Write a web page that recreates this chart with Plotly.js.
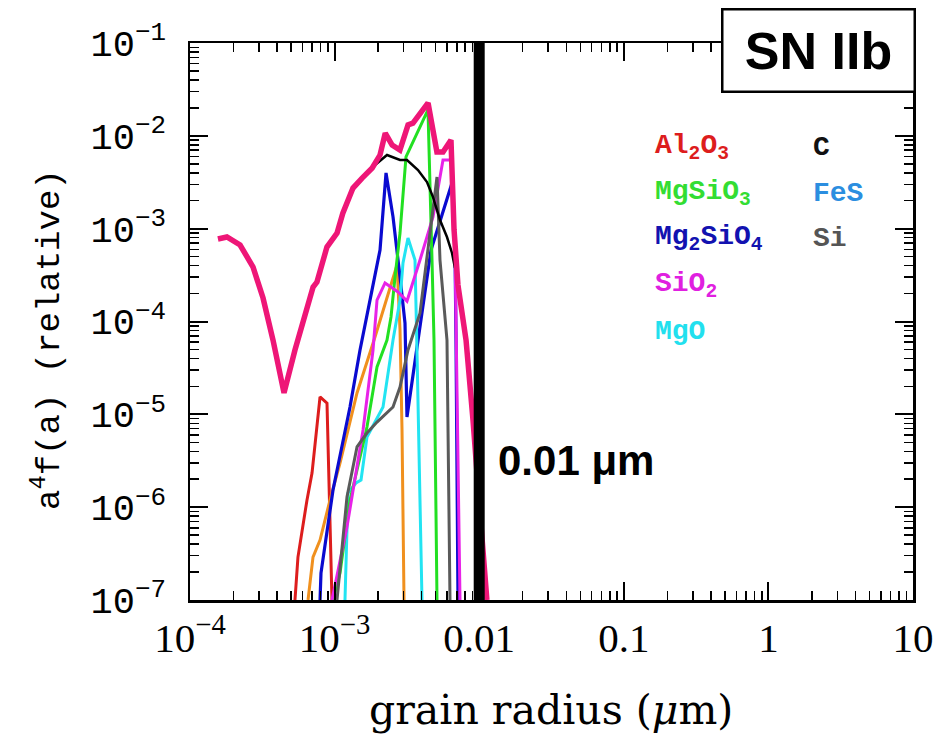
<!DOCTYPE html>
<html>
<head>
<meta charset="utf-8">
<script src="https://cdn.plot.ly/plotly-3.0.1.min.js"></script>
<style>html,body{margin:0;padding:0;background:#fff;}#chart{width:939px;height:736px;}</style>
</head>
<body>
<div id="chart"></div>
<script>
// ---- data (grain radius in micron, a^4 f(a) relative) ----
const totalX = [1.56e-4, 1.80e-4, 2.22e-4, 2.73e-4, 3.20e-4, 3.75e-4, 4.47e-4, 5.32e-4, 7.10e-4, 7.55e-4, 8.85e-4, 1.04e-3, 1.14e-3, 1.34e-3, 1.55e-3, 1.82e-3, 2.06e-3, 2.24e-3, 2.50e-3, 2.83e-3, 3.22e-3, 3.48e-3, 4.43e-3, 5.10e-3, 5.62e-3, 6.38e-3, 6.70e-3, 7.13e-3, 8.11e-3, 9.06e-3, 1.01e-2, 1.13e-2];
const totalY = [7.74e-4, 8.13e-4, 6.67e-4, 3.86e-4, 1.79e-4, 6.32e-5, 1.70e-5, 4.93e-5, 2.35e-4, 2.66e-4, 6.34e-4, 8.98e-4, 1.47e-3, 2.74e-3, 3.51e-3, 4.50e-3, 6.21e-3, 1.07e-2, 7.96e-3, 7.03e-3, 1.31e-2, 1.37e-2, 2.26e-2, 6.70e-3, 6.70e-3, 9.02e-3, 9.68e-4, 2.47e-4, 6.32e-5, 8.69e-6, 9.31e-7, 1.0e-7];

const al2o3X = [5.32e-4, 5.58e-4, 6.44e-4, 6.98e-4, 7.93e-4, 8.86e-4, 9.59e-4];
const al2o3Y = [1e-7, 2.9e-7, 1.19e-6, 2.33e-6, 1.54e-5, 1.32e-5, 1e-7];

const orangeX = [6.55e-4, 7.09e-4, 7.93e-4, 9.29e-4, 1.090e-3, 1.429e-3, 1.903e-3, 2.702e-3, 2.834e-3, 2.926e-3, 3.020e-3];
const orangeY = [1e-7, 2.9e-7, 4.43e-7, 1.19e-6, 2.99e-6, 1.70e-5, 6.81e-5, 4.06e-4, 8.1e-5, 6.78e-6, 1e-7];

const mg2sio4X = [7.93e-4, 8.05e-4, 9.75e-4, 1.278e-3, 1.499e-3, 1.814e-3, 2.061e-3, 2.268e-3, 2.535e-3, 2.834e-3, 3.068e-3, 3.167e-3, 4.642e-3, 6.484e-3, 6.802e-3, 6.912e-3, 7.135e-3];
const mg2sio4Y = [1e-7, 1.95e-7, 1.53e-6, 1.20e-5, 4.93e-5, 2.18e-4, 5.89e-4, 3.98e-3, 1.34e-3, 3.01e-4, 9.64e-5, 9.35e-6, 5.89e-4, 3.10e-3, 5.89e-4, 6.32e-5, 1e-7];

const mgoX = [1.180e-3, 1.238e-3, 1.406e-3, 1.523e-3, 1.675e-3, 2.162e-3, 2.535e-3, 2.834e-3, 2.972e-3, 3.218e-3, 3.597e-3, 3.70e-3, 4.021e-3];
const mgoY = [1e-7, 1.42e-6, 1.82e-6, 1.96e-6, 5.70e-6, 1.20e-5, 6.32e-5, 1.70e-4, 4.27e-4, 7.93e-4, 4.59e-4, 6.32e-5, 1e-7];

const mgsio3X = [9.75e-4, 1.090e-3, 1.278e-3, 1.675e-3, 1.965e-3, 2.304e-3, 2.455e-3, 2.617e-3, 2.834e-3, 3.117e-3, 4.424e-3, 4.717e-3, 4.869e-3, 5.107e-3];
const mgsio3Y = [1e-7, 1.95e-7, 1.19e-6, 7.30e-6, 3.24e-5, 6.32e-5, 1.12e-4, 3.01e-4, 8.98e-4, 5.92e-3, 1.90e-2, 4.59e-4, 6.32e-5, 1e-7];

const sio2X = [9.59e-4, 1.218e-3, 1.573e-3, 1.844e-3, 1.965e-3, 2.232e-3, 2.745e-3, 3.167e-3, 3.895e-3, 4.792e-3, 5.619e-3, 6.382e-3, 6.802e-3, 7.365e-3];
const sio2Y = [1e-7, 6.11e-7, 6.78e-6, 4.93e-5, 1.70e-4, 2.60e-4, 2.08e-4, 1.66e-4, 4.59e-4, 1.34e-3, 5.49e-3, 5.49e-3, 5.89e-4, 1e-7];

const siX = [1.039e-3, 1.218e-3, 1.429e-3, 1.675e-3, 1.965e-3, 2.535e-3, 2.834e-3, 3.218e-3, 3.895e-3, 5.107e-3, 5.357e-3, 5.988e-3, 6.281e-3];
const siY = [1e-7, 1.29e-6, 4.45e-6, 6.29e-6, 8.26e-6, 1.20e-5, 1.97e-5, 4.93e-5, 1.23e-4, 3.60e-3, 4.59e-4, 6.32e-5, 1e-7];

const cX = [1.34e-3, 1.622e-3, 1.903e-3, 2.304e-3, 2.834e-3, 3.167e-3, 3.773e-3, 4.355e-3, 4.792e-3, 5.357e-3, 5.988e-3, 6.484e-3, 6.802e-3];
const cY = [2.61e-3, 3.78e-3, 4.85e-3, 6.21e-3, 5.49e-3, 5.49e-3, 4.28e-3, 3.18e-3, 2.19e-3, 1.24e-3, 8.13e-4, 5.47e-4, 3.77e-4];

const cutX = [0.01, 0.01];
const cutY = [1e-7, 1e-1];

const xTickVals = [1e-4, 1e-3, 1e-2, 1e-1, 1, 10];
const xTickText = ['10<sup>\u22124</sup>', '10<sup>\u22123</sup>', '0.01', '0.1', '1', '10'];
const yTickVals = [1e-7, 1e-6, 1e-5, 1e-4, 1e-3, 1e-2, 1e-1];
const yTickText = ['10<sup>\u22127</sup>', '10<sup>\u22126</sup>', '10<sup>\u22125</sup>', '10<sup>\u22124</sup>', '10<sup>\u22123</sup>', '10<sup>\u22122</sup>', '10<sup>\u22121</sup>'];

const legendLeft = ['Al<sub>2</sub>O<sub>3</sub>', 'MgSiO<sub>3</sub>', 'Mg<sub>2</sub>SiO<sub>4</sub>', 'SiO<sub>2</sub>', 'MgO'];
const legendLeftColors = ['#dd1d1d', '#33dd33', '#1212b0', '#e020e0', '#22e0ee'];
const legendRight = ['C', 'FeS', 'Si'];
const legendRightColors = ['#111111', '#2b8ee0', '#555555'];

// ---- traces ----
function line(x, y, color, width) {
  return {x: x, y: y, type: 'scatter', mode: 'lines', line: {color: color, width: width, simplify: false}, hoverinfo: 'skip', showlegend: false};
}
const traces = [
  line(al2o3X, al2o3Y, '#dd1d1d', 3),
  line(orangeX, orangeY, '#f0901e', 3),
  line(mg2sio4X, mg2sio4Y, '#0a0ad0', 3.2),
  line(mgoX, mgoY, '#22e4f2', 3),
  line(mgsio3X, mgsio3Y, '#22e022', 3),
  line(sio2X, sio2Y, '#e822e8', 3),
  line(siX, siY, '#5a5a5a', 3),
  line(cX, cY, '#000000', 2.5),
  line(totalX, totalY, '#ee1677', 5.5),
  line(cutX, cutY, '#000000', 11)
];

const PL = 190, PR = 913, PT = 43, PB = 600;
const px = v => (v - PL) / (PR - PL);
const py = v => (PB - v) / (PB - PT);

const MONO = 'Liberation Mono, Courier New, monospace';
const annotations = [];
const rowY = [147, 193, 239, 285, 331];
legendLeft.forEach((t, i) => annotations.push({
  text: '<b>' + t + '</b>', xref: 'paper', yref: 'paper', x: px(653), y: py(rowY[i]), xanchor: 'left', yanchor: 'middle',
  showarrow: false, font: {family: MONO, size: 28, color: legendLeftColors[i]}
}));
legendRight.forEach((t, i) => annotations.push({
  text: '<b>' + t + '</b>', xref: 'paper', yref: 'paper', x: px(811), y: py(rowY[i]), xanchor: 'left', yanchor: 'middle',
  showarrow: false, font: {family: MONO, size: 28, color: legendRightColors[i]}
}));
annotations.push({
  text: '<b>0.01 \u03bcm</b>', xref: 'paper', yref: 'paper', x: px(496), y: py(461), xanchor: 'left', yanchor: 'middle',
  showarrow: false, font: {family: 'Liberation Sans, Arial, sans-serif', size: 42, color: '#000'}
});
annotations.push({
  text: '<b>SN IIb</b>', xref: 'paper', yref: 'paper', x: px(818), y: py(50), xanchor: 'center', yanchor: 'middle',
  showarrow: false, width: 188, height: 78, bgcolor: '#ffffff', bordercolor: '#000000', borderwidth: 2.5, borderpad: 1,
  font: {family: 'Liberation Sans, Arial, sans-serif', size: 52, color: '#000'}
});
annotations.push({
  text: 'a<sup>4</sup>f(a) (relative)', xref: 'paper', yref: 'paper', x: px(47), y: py(340), textangle: -90,
  xanchor: 'center', yanchor: 'middle', showarrow: false,
  font: {family: MONO, size: 34, color: '#000'}
});
annotations.push({
  text: 'grain radius (<i>\u03bc</i>m)', xref: 'paper', yref: 'paper', x: px(551), y: py(710),
  xanchor: 'center', yanchor: 'middle', showarrow: false,
  font: {family: 'DejaVu Serif, Liberation Serif, serif', size: 41, color: '#000'}
});

const layout = {
  width: 939, height: 736,
  margin: {l: PL, r: 939 - PR, t: PT, b: 736 - PB, pad: 0},
  paper_bgcolor: '#fff', plot_bgcolor: '#fff',
  showlegend: false,
  xaxis: {
    type: 'log', range: [-4, 1], tickvals: xTickVals, ticktext: xTickText,
    ticks: 'inside', ticklen: 18, tickwidth: 2, tickcolor: '#000',
    showline: true, linewidth: 2.5, linecolor: '#000', mirror: 'allticks',
    showgrid: false, zeroline: false,
    minor: {ticks: 'inside', ticklen: 9, tickwidth: 1.5, tickcolor: '#000', dtick: 'D1', showgrid: false},
    tickfont: {family: 'Liberation Serif, Times New Roman, serif', size: 41, color: '#000'},
    ticklabelstandoff: 0
  },
  yaxis: {
    type: 'log', range: [-7, -1], tickvals: yTickVals, ticktext: yTickText,
    ticks: 'inside', ticklen: 18, tickwidth: 2, tickcolor: '#000',
    showline: true, linewidth: 2.5, linecolor: '#000', mirror: 'allticks',
    showgrid: false, zeroline: false,
    minor: {ticks: 'inside', ticklen: 9, tickwidth: 1.5, tickcolor: '#000', dtick: 'D1', showgrid: false},
    tickfont: {family: MONO, size: 37, color: '#000'},
    ticklabelstandoff: 14
  },
  annotations: annotations
};

Plotly.newPlot('chart', traces, layout, {staticPlot: true, displayModeBar: false});
</script>
</body>
</html>
